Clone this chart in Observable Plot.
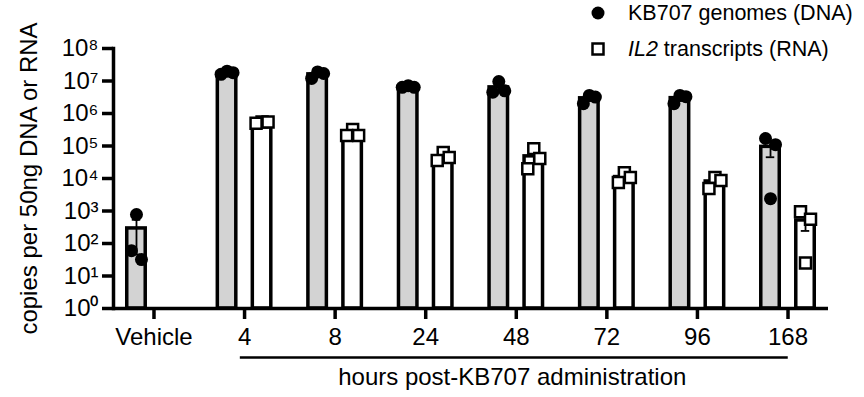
<!DOCTYPE html>
<html>
<head>
<meta charset="utf-8">
<script src="https://cdn.jsdelivr.net/npm/d3@7"></script>
<script src="https://cdn.jsdelivr.net/npm/@observablehq/plot@0.6"></script>
<style>
  body { margin: 0; background: #fff; }
  #chart { position: relative; width: 864px; height: 397px; font-family: "Liberation Sans", Arial, sans-serif; color: #000; }
  #legend { position: absolute; left: 0; top: 0; width: 864px; height: 70px; font-size: 21.5px; }
  .row { position: absolute; left: 588px; height: 24px; display: flex; align-items: center; white-space: nowrap; }
  .row svg { flex: none; }
  .row span { margin-left: 20px; }
</style>
</head>
<body>
<div id="chart"><div id="legend"></div></div>
<script>
// ---- data ----
const categories = ["Vehicle", "4", "8", "24", "48", "72", "96", "168"];
const hourCategories = ["4", "8", "24", "48", "72", "96", "168"];
const dnaValues = [
  [780, 32, 60],
  [2.0e7, 1.8e7, 1.6e7],
  [1.9e7, 1.7e7, 1.2e7],
  [7.2e6, 6.4e6, 6.4e6],
  [9.6e6, 5.0e6, 4.5e6],
  [3.6e6, 3.2e6, 2.0e6],
  [3.6e6, 3.3e6, 2.0e6],
  [1.7e5, 1.1e5, 2.4e3]
];
const rnaValues = [
  [],
  [5.5e5, 5.5e5, 5.0e5],
  [3.2e5, 2.1e5, 2.1e5],
  [6.3e4, 4.4e4, 3.6e4],
  [8.3e4, 4.1e4, 2.0e4],
  [1.5e4, 1.07e4, 7.5e3],
  [1.07e4, 8.7e3, 4.9e3],
  [950, 560, 25]
];
const yTicks = [1, 1e1, 1e2, 1e3, 1e4, 1e5, 1e6, 1e7, 1e8];
const legendItalic = ["", "IL2"];
const legendText = ["KB707 genomes (DNA)", " transcripts (RNA)"];
const yLabel = "copies per 50ng DNA or RNA";
const xLabel = "hours post-KB707 administration";

// ---- derived tables ----
const series = [
  {key: "DNA", values: dnaValues, dx: -17.5, fill: "#d3d3d3"},
  {key: "RNA", values: rnaValues, dx: 17.5, fill: "#ffffff"}
];
const points = [];
const stats = [];
for (const s of series) {
  categories.forEach((c, i) => {
    const v = s.values[i];
    if (!v || !v.length) return;
    const mean = d3.mean(v);
    const sem = d3.deviation(v) / Math.sqrt(v.length);
    stats.push({series: s.key, time: c, mean, lo: mean - sem, hi: mean + sem});
    // spread overlapping replicates sideways (scatter-dot-plot style)
    const sorted = v.map(value => ({value})).sort((a, b) => b.value - a.value);
    const clusters = [[sorted[0]]];
    for (let j = 1; j < sorted.length; j++) {
      const last = clusters[clusters.length - 1];
      if (Math.log10(last[last.length - 1].value) - Math.log10(sorted[j].value) < 0.37) last.push(sorted[j]);
      else clusters.push([sorted[j]]);
    }
    for (const cl of clusters) {
      const offs = cl.length === 1 ? [0] : cl.length === 2 ? [-5, 5] : [0, 6, -6];
      cl.forEach((p, k) => points.push({series: s.key, time: c, value: p.value, offset: offs[k]}));
    }
  });
}

const sup = {"0": "\u2070", "1": "\u00b9", "2": "\u00b2", "3": "\u00b3", "4": "\u2074", "5": "\u2075", "6": "\u2076", "7": "\u2077", "8": "\u2078"};
const fmt = d => "10" + sup[String(Math.round(Math.log10(d)))];

const marks = [];
for (const s of series) {
  const st = stats.filter(d => d.series === s.key);
  marks.push(Plot.barY(st, {x: "time", y1: 1, y2: "mean", dx: s.dx, fill: s.fill, stroke: "#000", strokeWidth: 3.5}));
  marks.push(Plot.ruleX(st, {x: "time", y1: "lo", y2: "hi", dx: s.dx, stroke: "#000", strokeWidth: 1.8}));
  marks.push(Plot.tickY(st, {x: "time", y: "hi", dx: s.dx, insetLeft: 5, insetRight: 5, stroke: "#000", strokeWidth: 1.8}));
  marks.push(Plot.tickY(st, {x: "time", y: "lo", dx: s.dx, insetLeft: 5, insetRight: 5, stroke: "#000", strokeWidth: 1.8}));
}
for (const s of series) {
  const pts = points.filter(d => d.series === s.key);
  const offsets = Array.from(new Set(pts.map(d => d.offset)));
  for (const off of offsets) {
    const sub = pts.filter(d => d.offset === off);
    if (s.key === "DNA") {
      marks.push(Plot.dot(sub, {x: "time", y: "value", dx: s.dx + off, r: 6.5, fill: "#000", stroke: "none"}));
    } else {
      marks.push(Plot.dot(sub, {x: "time", y: "value", dx: s.dx + off, r: 6.2, symbol: "square", fill: "#fff", stroke: "#000", strokeWidth: 2.5}));
    }
  }
}

const plot = Plot.plot({
  width: 864,
  height: 397,
  marginTop: 48,
  marginBottom: 89,
  marginLeft: 113,
  marginRight: 36,
  style: {fontFamily: "'Liberation Sans', Arial, sans-serif", fontSize: "24px", color: "#000", background: "transparent", overflow: "visible"},
  x: {type: "band", domain: categories, paddingInner: 0.796, paddingOuter: 0.345, round: false},
  y: {type: "log", domain: [1, 1e8]},
  marks: [
    ...marks,
    Plot.ruleY([1], {stroke: "#000", strokeWidth: 3.5}),
    Plot.frame({anchor: "left", stroke: "#000", strokeWidth: 3.5}),
    Plot.axisY(yTicks, {tickFormat: fmt, tickSize: 11, tickPadding: 4, strokeWidth: 3.5, fontSize: 24, label: null}),
    Plot.axisX({tickSize: 11, tickPadding: 8, strokeWidth: 3.5, fontSize: 24, label: null}),
    Plot.ruleY([{y: 1, a: hourCategories[0], b: hourCategories[hourCategories.length - 1]}],
      {y: "y", x1: "a", x2: "b", dy: 49, insetLeft: 5, insetRight: 9, stroke: "#000", strokeWidth: 2.5}),
    Plot.text([{label: xLabel, x: hourCategories[Math.floor(hourCategories.length / 2)], y: 1}],
      {x: "x", y: "y", text: "label", dx: -4, dy: 69, fontSize: 24, textAnchor: "middle", lineAnchor: "middle"}),
    Plot.text([yLabel], {text: d => d, frameAnchor: "left", rotate: -90, dx: -84, fontSize: 24, textAnchor: "middle", lineAnchor: "middle"})
  ]
});
document.getElementById("chart").appendChild(plot);

// legend (HTML, above the plot area)
const legend = document.getElementById("legend");
const rowTops = [1, 37];
legendText.forEach((t, i) => {
  const row = document.createElement("div");
  row.className = "row";
  row.style.top = rowTops[i] + "px";
  const symbol = i === 0
    ? '<svg width="20" height="20"><circle cx="10" cy="10" r="6.5" fill="#000"/></svg>'
    : '<svg width="20" height="20"><rect x="4.5" y="4.5" width="11" height="11" fill="#fff" stroke="#000" stroke-width="2.5"/></svg>';
  row.innerHTML = symbol + '<span>' + (legendItalic[i] ? '<i>' + legendItalic[i] + '</i>' : '') + t + '</span>';
  legend.appendChild(row);
});
</script>
</body>
</html>
